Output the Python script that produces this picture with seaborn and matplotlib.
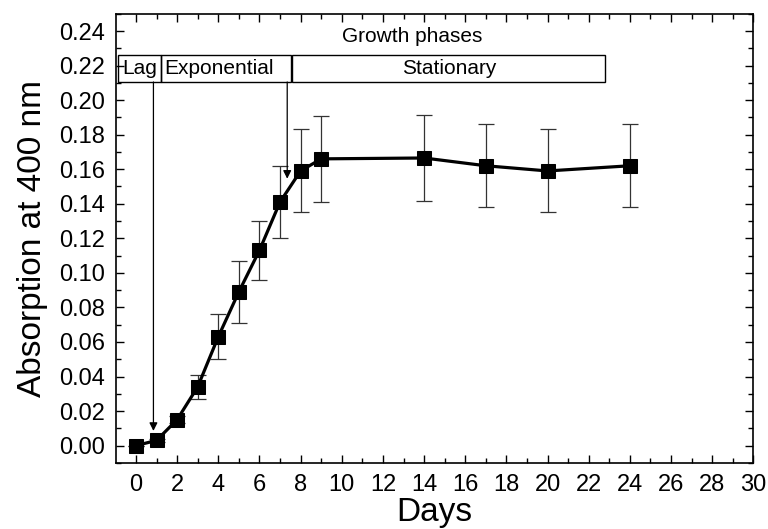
import numpy as np
import pandas as pd
import matplotlib
matplotlib.use("Agg")
import matplotlib.pyplot as plt
from matplotlib.patches import Rectangle
from matplotlib.ticker import MultipleLocator
import seaborn as sns

days = [0, 1, 2, 3, 4, 5, 6, 7, 8, 9, 14, 17, 20, 24]
absorption = [0.000, 0.003, 0.015, 0.034, 0.063, 0.089, 0.113, 0.141, 0.159, 0.166,
              0.1665, 0.162, 0.159, 0.162]
errors = [0.000, 0.001, 0.002, 0.007, 0.013, 0.018, 0.017, 0.021, 0.024, 0.025,
          0.025, 0.024, 0.024, 0.024]

phase_names = ["Lag", "Exponential", "Stationary"]
phase_starts = [-0.85, 1.2, 7.6]
phase_ends = [1.2, 7.55, 22.8]

sns.set_style("ticks")
plt.rcParams["font.family"] = ["Liberation Sans", "DejaVu Sans"]
plt.rcParams["text.color"] = "black"
plt.rcParams["axes.labelcolor"] = "black"

df = pd.DataFrame({"Days": days, "Absorption": absorption, "err": errors})

fig = plt.figure(figsize=(7.68, 5.29), dpi=100)
ax = fig.add_axes([0.151, 0.125, 0.830, 0.849])

ax.errorbar(df["Days"], df["Absorption"], yerr=df["err"], fmt="none",
            ecolor="#333333", elinewidth=0.9, capsize=6, capthick=0.9, zorder=2)
sns.lineplot(data=df, x="Days", y="Absorption", ax=ax, color="black",
             linewidth=2.3, marker="s", markersize=10.5, markeredgecolor="black",
             zorder=3)

ax.set_xlim(-0.97, 30)
ax.set_ylim(-0.01, 0.25)
ax.xaxis.set_major_locator(MultipleLocator(2))
ax.xaxis.set_minor_locator(MultipleLocator(1))
ax.yaxis.set_minor_locator(MultipleLocator(0.01))
yt = np.arange(0, 0.2401, 0.02)
ax.set_yticks(yt)
ax.set_yticklabels([f"{v:.2f}" for v in yt])
ax.tick_params(which="both", direction="in", top=True, right=True,
               width=1, colors="black", labelsize=17)
ax.tick_params(which="major", length=6)
ax.tick_params(which="minor", length=3.5)
ax.tick_params(axis="x", which="major", pad=8)
ax.tick_params(axis="y", which="major", pad=8)
for s in ax.spines.values():
    s.set_visible(True)
    s.set_linewidth(1.2)
    s.set_color("black")

ax.set_xlabel("Days", fontsize=24, labelpad=1, color="black")
ax.set_ylabel("Absorption at 400 nm", fontsize=24, labelpad=8, color="black")

box_y0, box_y1 = 0.2105, 0.226
for name, x0, x1 in zip(phase_names, phase_starts, phase_ends):
    ax.add_patch(Rectangle((x0, box_y0), x1 - x0, box_y1 - box_y0,
                           fill=False, edgecolor="black", linewidth=1, zorder=4))
    if name == "Exponential":
        ax.text(x0 + 0.2, (box_y0 + box_y1) / 2, name, fontsize=15,
                ha="left", va="center", color="black")
    else:
        ax.text((x0 + x1) / 2, (box_y0 + box_y1) / 2, name, fontsize=15,
                ha="center", va="center", color="black")
ax.text(13.4, 0.2368, "Growth phases", fontsize=15, ha="center", va="center",
        color="black")

ax.annotate("", xy=(0.85, 0.0085), xytext=(0.85, box_y0),
            arrowprops=dict(arrowstyle="-|>", color="black", lw=0.9,
                            mutation_scale=12, shrinkA=0, shrinkB=0))
ax.annotate("", xy=(7.35, 0.1545), xytext=(7.35, box_y0),
            arrowprops=dict(arrowstyle="-|>", color="black", lw=0.9,
                            mutation_scale=12, shrinkA=0, shrinkB=0))

fig.savefig("out.png", dpi=100)
